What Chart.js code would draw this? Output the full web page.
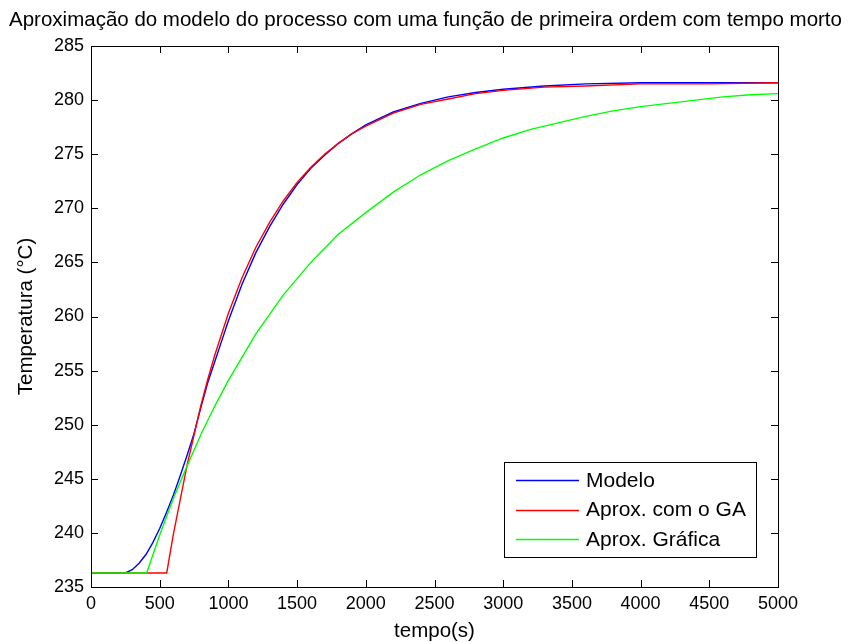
<!DOCTYPE html>
<html>
<head>
<meta charset="utf-8">
<script src="https://cdn.jsdelivr.net/npm/chart.js@4/dist/chart.umd.min.js"></script>
<style>
  html, body { margin: 0; padding: 0; background: #ffffff; }
  #wrap { width: 851px; height: 642px; }
</style>
</head>
<body>
<div id="wrap"><canvas id="c" width="851" height="642"></canvas></div>
<script>
// Process model response (Modelo)
const tempoModelo = [0, 250, 300, 350, 400, 450, 500, 550, 600, 650, 700, 750, 800, 850, 900, 950, 1000, 1100, 1200, 1300, 1400, 1500, 1600, 1700, 1800, 1900, 2000, 2200, 2400, 2600, 2800, 3000, 3300, 3600, 4000, 4500, 5000];
const tempModelo  = [236.3, 236.3, 236.6, 237.2, 238.0, 239.1, 240.4, 241.9, 243.5, 245.3, 247.2, 249.2, 251.6, 253.9, 255.8, 257.7, 259.6, 263.0, 265.9, 268.3, 270.4, 272.2, 273.7, 274.9, 276.0, 276.9, 277.7, 278.9, 279.7, 280.3, 280.7, 281.0, 281.3, 281.5, 281.6, 281.6, 281.6];

// First order plus dead time fitted with the GA
const tempoGA = [0, 551, 600, 700, 800, 850, 900, 1000, 1100, 1200, 1300, 1400, 1500, 1600, 1700, 1800, 1900, 2000, 2200, 2400, 2600, 2800, 3000, 3300, 3600, 4000, 4500, 5000];
const tempGA  = [236.3, 236.3, 239.9, 246.3, 251.8, 254.2, 256.4, 260.3, 263.6, 266.4, 268.7, 270.7, 272.4, 273.8, 275.0, 276.0, 276.9, 277.6, 278.8, 279.6, 280.1, 280.6, 280.9, 281.2, 281.3, 281.5, 281.5, 281.6];

// First order plus dead time from the graphical method
const tempoGraf = [0, 405, 500, 600, 700, 800, 900, 1000, 1200, 1400, 1600, 1800, 2000, 2200, 2400, 2600, 2800, 3000, 3200, 3400, 3600, 3800, 4000, 4200, 4400, 4600, 4800, 5000];
const tempGraf  = [236.3, 236.3, 239.8, 243.2, 246.2, 249.1, 251.7, 254.1, 258.4, 262.0, 265.0, 267.6, 269.6, 271.5, 273.1, 274.4, 275.5, 276.5, 277.3, 277.9, 278.5, 279.0, 279.4, 279.7, 280.0, 280.3, 280.5, 280.6];

// Axis ticks
const ticksTempo = [0, 500, 1000, 1500, 2000, 2500, 3000, 3500, 4000, 4500, 5000];
const ticksTemp  = [235, 240, 245, 250, 255, 260, 265, 270, 275, 280, 285];

const FONT = 'Arial, "Liberation Sans", Helvetica, sans-serif';

function pts(xs, ys) { return xs.map((x, i) => ({ x: x, y: ys[i] })); }

// Boxed axes with inward tick marks on all four sides, plus an in-plot legend
const boxPlugin = {
  id: 'boxAxes',
  afterDatasetsDraw(chart) {
    const { ctx, chartArea: a, scales } = chart;
    const L = 7;
    ctx.save();
    ctx.strokeStyle = '#000000';
    ctx.lineWidth = 1;
    ctx.beginPath();
    ticksTempo.forEach(v => {
      const px = Math.round(scales.x.getPixelForValue(v)) + 0.5;
      ctx.moveTo(px, a.bottom); ctx.lineTo(px, a.bottom - L);
      ctx.moveTo(px, a.top); ctx.lineTo(px, a.top + L);
    });
    ticksTemp.forEach(v => {
      const py = Math.round(scales.y.getPixelForValue(v)) + 0.5;
      ctx.moveTo(a.left, py); ctx.lineTo(a.left + L, py);
      ctx.moveTo(a.right, py); ctx.lineTo(a.right - L, py);
    });
    ctx.stroke();
    ctx.strokeRect(Math.round(a.left) + 0.5, Math.round(a.top) + 0.5,
                   Math.round(a.right - a.left), Math.round(a.bottom - a.top));

    // legend
    const bx = a.right - 274, by = a.bottom - 125, bw = 252, bh = 95;
    ctx.fillStyle = '#ffffff';
    ctx.fillRect(bx, by, bw, bh);
    ctx.strokeRect(bx + 0.5, by + 0.5, bw, bh);
    ctx.font = '21px ' + FONT;
    ctx.textBaseline = 'middle';
    ctx.textAlign = 'left';
    chart.data.datasets.forEach((ds, i) => {
      const y = by + 18 + i * 29.5;
      ctx.strokeStyle = ds.borderColor;
      ctx.lineWidth = 1.5;
      ctx.beginPath();
      ctx.moveTo(bx + 12, Math.round(y) + 0.5); ctx.lineTo(bx + 75, Math.round(y) + 0.5);
      ctx.stroke();
      ctx.fillStyle = '#000000';
      ctx.fillText(ds.label, bx + 82, y + 1);
    });
    ctx.restore();
  }
};

const common = { showLine: true, pointRadius: 0, borderWidth: 1.4, tension: 0, fill: false };

new Chart(document.getElementById('c'), {
  type: 'scatter',
  data: {
    datasets: [
      Object.assign({ label: 'Modelo', data: pts(tempoModelo, tempModelo), borderColor: '#0000ff', order: 3 }, common),
      Object.assign({ label: 'Aprox. com o GA', data: pts(tempoGA, tempGA), borderColor: '#ff0000', order: 2 }, common),
      Object.assign({ label: 'Aprox. Gráfica', data: pts(tempoGraf, tempGraf), borderColor: '#00ff00', order: 1 }, common)
    ]
  },
  options: {
    responsive: false,
    animation: false,
    layout: { padding: 0 },
    plugins: {
      legend: { display: false },
      tooltip: { enabled: false },
      title: {
        display: true,
        text: 'Aproximação do modelo do processo com uma função de primeira ordem com tempo morto',
        color: '#000000',
        font: { family: FONT, size: 20.5, weight: 'normal' },
        padding: { top: 7.7, bottom: 13.7 }
      }
    },
    scales: {
      x: {
        type: 'linear', min: 0, max: 5000,
        afterBuildTicks: s => { s.ticks = ticksTempo.map(v => ({ value: v })); },
        afterFit: s => { s.height = 55; },
        grid: { display: false, drawTicks: false },
        border: { display: false },
        ticks: { color: '#000000', padding: 6, maxRotation: 0, autoSkip: false, font: { family: FONT, size: 18 }, callback: v => String(v) },
        title: { display: true, text: 'tempo(s)', color: '#000000', font: { family: FONT, size: 20.5 }, padding: { top: 0, bottom: -1.5 } }
      },
      y: {
        type: 'linear', min: 235, max: 285,
        afterBuildTicks: s => { s.ticks = ticksTemp.map(v => ({ value: v })); },
        afterFit: s => { s.width = 91; },
        grid: { display: false, drawTicks: false },
        border: { display: false },
        ticks: { color: '#000000', padding: 7, autoSkip: false, font: { family: FONT, size: 18 }, callback: v => String(v) },
        title: { display: true, text: 'Temperatura (°C)', color: '#000000', font: { family: FONT, size: 20.5 }, padding: { top: 14, bottom: 0 } }
      },
      // empty margin on the right of the plot box
      yRight: {
        type: 'linear', position: 'right', min: 235, max: 285,
        afterFit: s => { s.width = 73; },
        grid: { display: false, drawTicks: false },
        border: { display: false },
        ticks: { display: false }
      }
    }
  },
  plugins: [boxPlugin]
});
</script>
</body>
</html>
